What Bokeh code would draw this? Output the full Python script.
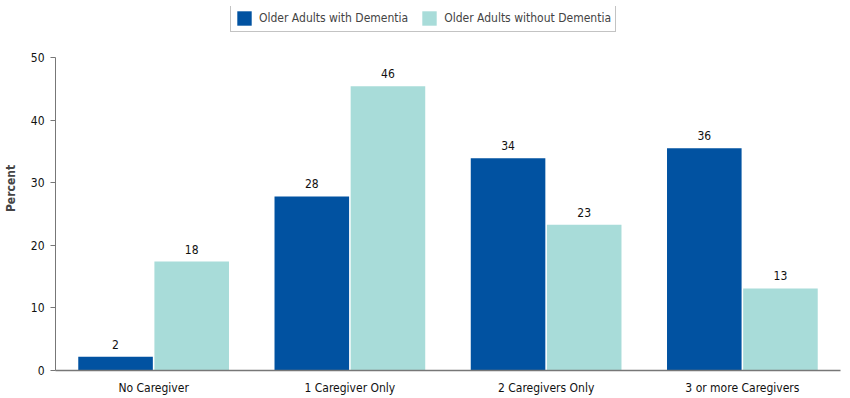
from bokeh.plotting import figure
from bokeh.models import ColumnDataSource, FactorRange, LabelSet, Legend, LegendItem, Range1d
from bokeh.core.properties import value
from bokeh.transform import dodge
from bokeh.embed import file_html
from bokeh.resources import INLINE

categories = ["No Caregiver", "1 Caregiver Only", "2 Caregivers Only", "3 or more Caregivers"]
with_dementia = [2.2, 27.8, 33.9, 35.5]
without_dementia = [17.4, 45.4, 23.3, 13.1]
with_labels = ["2", "28", "34", "36"]
without_labels = ["18", "46", "23", "13"]
y_ticks = [0, 10, 20, 30, 40, 50]

FONT = "DejaVu Sans Condensed"
DARK = "#0152a1"
LIGHT = "#a8dcd9"

src = ColumnDataSource(dict(cat=categories, w=with_dementia, wo=without_dementia,
                            wl=with_labels, wol=without_labels))

p = figure(x_range=FactorRange(factors=categories, range_padding=0),
           y_range=Range1d(0, 58.15),
           frame_width=785, frame_height=364,
           min_border_left=43, min_border_top=6, min_border_right=4, min_border_bottom=18,
           output_backend="svg", toolbar_location=None)

r1 = p.vbar(x=dodge("cat", -0.194, range=p.x_range), top="w", width=0.38, source=src,
            fill_color=DARK, line_color=None)
r2 = p.vbar(x=dodge("cat", 0.194, range=p.x_range), top="wo", width=0.38, source=src,
            fill_color=LIGHT, line_color=None)

for col, lab, off in [("w", "wl", -0.194), ("wo", "wol", 0.194)]:
    ls = LabelSet(x=dodge("cat", off, range=p.x_range), y=col, text=lab, source=src,
                  text_align="center", text_baseline="bottom", y_offset=8,
                  text_font=value(FONT), text_font_size=value("12px"), text_color="#111111")
    p.add_layout(ls)

p.xgrid.visible = False
p.ygrid.visible = False
p.outline_line_color = None

p.yaxis.ticker = y_ticks
p.yaxis.bounds = (0, 50)
p.yaxis.axis_label = "Percent"
p.yaxis.axis_label_text_font = FONT
p.yaxis.axis_label_text_font_style = "bold"
p.yaxis.axis_label_text_font_size = "12px"
p.yaxis.axis_label_standoff = 10
p.yaxis.major_label_text_font = FONT
p.yaxis.major_label_text_font_size = "12px"
p.yaxis.major_label_text_color = "#111111"
p.yaxis.axis_line_color = "#777777"
p.yaxis.major_tick_line_color = "#777777"
p.yaxis.major_tick_in = 0
p.yaxis.major_tick_out = 5
p.yaxis.minor_tick_line_color = None
p.yaxis.major_label_standoff = 6

p.xaxis.major_label_text_font = FONT
p.xaxis.major_label_text_font_size = "12px"
p.xaxis.major_label_text_color = "#111111"
p.xaxis.axis_line_color = "#777777"
p.xaxis.axis_line_width = 1.5
p.xaxis.major_tick_line_color = None
p.xaxis.major_label_standoff = 4

legend = Legend(items=[LegendItem(label="Older Adults with Dementia", renderers=[r1]),
                       LegendItem(label="Older Adults without Dementia", renderers=[r2])],
                orientation="horizontal", location=(175, 338),
                label_text_font=FONT, label_text_font_size="12px",
                glyph_width=18, glyph_height=18, label_height=18,
                spacing=12, padding=4, margin=0, label_standoff=6,
                border_line_color="#888888", border_line_width=1,
                background_fill_alpha=1)
p.add_layout(legend, "center")

open("out.html", "w").write(file_html(p, INLINE))
